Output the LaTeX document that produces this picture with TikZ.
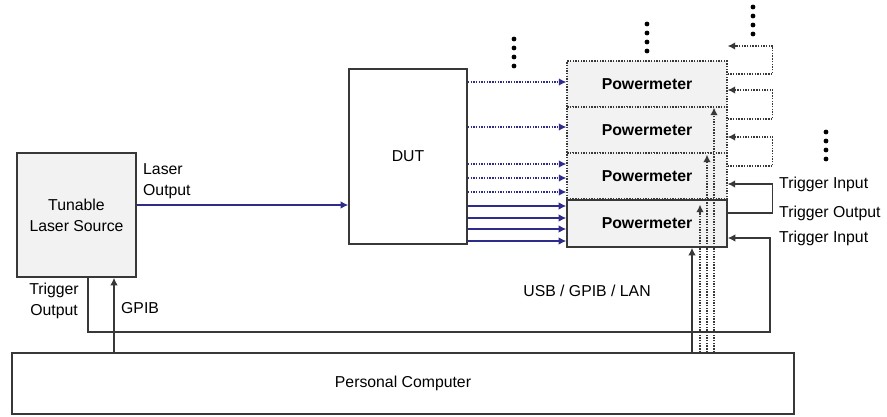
\documentclass[tikz,border=0pt]{standalone}
\usepackage{fontspec}
\setmainfont{Liberation Sans}
\usepackage{tikz}
\usetikzlibrary{arrows.meta,positioning}
\definecolor{devFill}{HTML}{F2F2F2}
\definecolor{edgeGray}{HTML}{383838}
\definecolor{fibBlue}{HTML}{2E2B8C}
\tikzset{
  font=\fontsize{15.8}{21}\selectfont,
  box/.style    ={draw=edgeGray, align=center, inner sep=0pt, line width=1.6pt},
  dev/.style    ={box, fill=devFill},
  pm/.style     ={dev, minimum width=160, minimum height=46, font=\fontsize{15.8}{21}\selectfont\bfseries},
  dotline/.style={dash pattern=on 1.4pt off 1.3pt},
  pmd/.style    ={pm, dotline, line width=1.3pt},
  arr/.style    ={-{Latex[length=7.5pt,width=7.5pt]}, line width=1.3pt},
  fib/.style    ={arr, draw=fibBlue},
  fibd/.style   ={fib, dotline},
  trg/.style    ={arr, draw=edgeGray},
  trgd/.style   ={trg, dotline},
  lbl/.style    ={inner sep=0pt, align=left},
}
\begin{document}
\begin{tikzpicture}[x=1pt,y=1pt]
  \useasboundingbox (0,0) rectangle (887,416);

  % instruments
  \node[dev, minimum width=119, minimum height=124] (tls) at (76.5,201)   {Tunable\\Laser Source};
  \node[box, minimum width=118, minimum height=175] (dut) at (408,259.5)  {DUT};
  \node[pmd] (pm1) at (647,332) {Powermeter};
  \node[pmd] (pm2) at (647,286) {Powermeter};
  \node[pmd] (pm3) at (647,240) {Powermeter};
  \node[pm, minimum height=47] (pm4) at (647,192.5) {Powermeter};
  \node[box, minimum width=782, minimum height=61] (pc) at (403,32.5) {Personal Computer};

  % optical paths
  \draw[fib] (tls.east |- 0,211) -- (dut.west |- 0,211);
  \foreach \y in {334,289,252,238,224} \draw[fibd] (dut.east |- 0,\y) -- (pm1.west |- 0,\y);
  \foreach \y in {210,198,187,175} \draw[fib] (dut.east |- 0,\y) -- (pm4.west |- 0,\y);

  % trigger chain
  \foreach \s/\t/\o/\i in {pm1/pm1/342/370, pm2/pm1/297/326, pm3/pm2/250/279}
    \draw[trgd] (\s.east |- 0,\o) -- ++(45,0) |- (\t.east |- 0,\i);
  \draw[trg] (pm4.east |- 0,203) -- ++(45,0) |- (pm3.east |- 0,232);
  \draw[trg] (tls.south -| 88,0) |- (770,84) |- (pm4.east |- 0,178);

  % bus lines
  \draw[trg] (pc.north -| 114,0) -- (tls.south -| 114,0);
  \draw[trg] (pc.north -| 692,0) -- (pm4.south -| 692,0);
  \foreach \x/\t/\s in {700/pm3/5, 707/pm2/1, 714/pm1/0}
    \draw[trgd, shorten >=\s pt] (pc.north -| \x,0) -- (\t.south -| \x,0);

  % more channels
  \foreach \x/\y in {514/377, 647/392, 753/409, 826/284}
    \foreach \k in {0,...,3} \fill (\x,\y-9*\k) circle (2.4);

  % labels
  \node[lbl, anchor=west] (lout) at (143,234.5) {Laser\\Output};
  \node[lbl, align=center] (tout) at (54,115)   {Trigger\\Output};
  \node[lbl, anchor=west] (gpib) at (121,108)   {GPIB};
  \node[lbl] (bus) at (587,125) {USB / GPIB / LAN};
  \node[lbl, anchor=west] (tin1) at (779,232)   {Trigger Input};
  \node[lbl, anchor=west] (tout2) at (779,203)  {Trigger Output};
  \node[lbl, anchor=west] (tin2) at (779,178)   {Trigger Input};
\end{tikzpicture}
\end{document}
